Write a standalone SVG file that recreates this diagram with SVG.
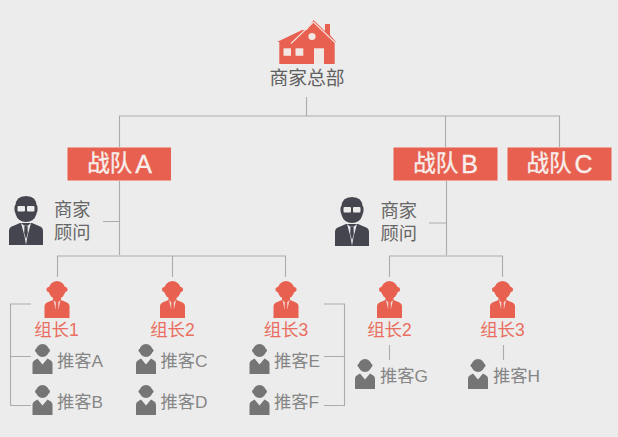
<svg xmlns="http://www.w3.org/2000/svg" width="618" height="437" viewBox="0 0 618 437">
<style>
text{font-family:"Liberation Sans","Noto Sans CJK SC",sans-serif}
.c{fill:none;stroke:#ababab;stroke-width:1.1}
.team{fill:#e8604f}
.tt{fill:#f7efec;stroke:#f7efec;stroke-width:.35;font-size:22.500px;text-anchor:middle}
.hq{fill:#606060;font-size:18.800px;text-anchor:middle}
.adv{fill:#666;font-size:18.300px}
.lead{fill:#ea6e60;font-size:17.500px;text-anchor:middle}
.rec{fill:#868686;font-size:17.300px}
</style>
<defs>
<g id="person">
<ellipse cx="0" cy="-15" rx="8.500" ry="9"/>
<rect x="-10.500" y="-18" width="21" height="5" rx="2.500"/>
<path d="M-4 -9H4V-3H-4Z"/>
<path d="M-12.500 13V1Q-12.500 -1.500 -10 -2.500L-4 -5H4L10 -2.500Q12.500 -1.500 12.500 1V13Z"/>
<path d="M-3.500 -5L-1.500 4H1.500L3.500 -5L1.500 -3L-1.500 -3Z" fill="#f2d9d4"/>
<path d="M-1.200 -3H1.200L1.400 3L0 7L-1.400 3Z"/>
</g>
<g id="rec">
<circle cx="0" cy="-8.500" r="6.500"/>
<rect x="-7.500" y="-10.500" width="15" height="4" rx="2"/>
<path d="M-10 15V4.500Q-10 2 -7.500 1L-5 -0.500L0 5.500L5 -0.500L7.500 1Q10 2 10 4.500V15Z"/>
</g>
<g id="advisor">
<path d="M-17 21V7Q-17 3 -13 2L-6 -1H6L13 2Q17 3 17 7V21Z"/>
<path d="M-5 -1L-1.500 12L0 21L1.500 12L5 -1L2 1.500H-2Z" fill="#e8e8ea"/>
<path d="M-1.500 1.500H1.500L1.800 9L0 15L-1.800 9Z"/>
<path d="M-10.500 -18Q-10.500 -28 0 -28Q10.500 -28 10.500 -18V-10Q8 -2 0 -2Q-8 -2 -10.500 -10Z"/>
<rect x="-11.500" y="-20" width="23" height="9.500" rx="3.500"/>
<rect x="-8.500" y="-18" width="7.500" height="5.500" rx="1" fill="#ececec"/>
<rect x="1" y="-18" width="7.500" height="5.500" rx="1" fill="#ececec"/>
</g>
</defs>
<rect width="618" height="437" fill="#ececec"/>
<g id="connectors" class="c">
<path d="M306.500 97V116M119.500 147V116H559.500V147M445.500 116V147"/>
<path d="M119.500 181V255M103 221.500H119.500M57.500 277V256H285.500V277M172.500 256V277"/>
<path d="M446.500 181V255M429 223H446.500M389.500 277V256H502.500V277"/>
<path d="M31 304H10.500V405.500H31M10.500 356.500H31"/>
<path d="M324 304H344.500V405.500H324M324 356.500H344.500"/>
<path d="M389.500 345V360M503.500 345V360"/>
</g>
<g id="hq">
<path fill="#e8604f" d="M277 42L302 30H307L313.500 20L325 31V24H330V35L336 42L334.700 43V64H279.300V42Z"/>
<path fill="none" stroke="#f6e2dd" stroke-width="1.100" d="M291 43.500L313.500 22L336 43.500"/>
<circle cx="312" cy="36.500" r="3.600" fill="#f4e6e2"/>
<rect x="283.500" y="48.300" width="7.500" height="7.500" fill="#f4e6e2"/>
<rect x="295.500" y="48.300" width="7.800" height="7.500" fill="#f4e6e2"/>
<rect x="314" y="48.300" width="10" height="15.700" fill="#f0e8e5"/>
<text class="hq" x="307" y="85">商家总部</text>
</g>
<g id="team-a"><rect class="team" x="67.500" y="147.500" width="103.500" height="33"/><text class="tt" x="119.500" y="171">战队<tspan dx="3" dy="2" font-size="25">A</tspan></text></g>
<g id="team-b"><rect class="team" x="393.500" y="147.500" width="104" height="33"/><text class="tt" x="445.500" y="171">战队<tspan dx="3" dy="2" font-size="25">B</tspan></text></g>
<g id="team-c"><rect class="team" x="507.500" y="147.500" width="104" height="33"/><text class="tt" x="559.500" y="171">战队<tspan dx="3" dy="2" font-size="25">C</tspan></text></g>
<g id="advisor-a"><use href="#advisor" x="26" y="224" fill="#45454f"/><text class="adv" x="54" y="216">商家</text><text class="adv" x="54" y="239">顾问</text></g>
<g id="advisor-b"><use href="#advisor" x="352" y="225" fill="#45454f"/><text class="adv" x="380.500" y="217">商家</text><text class="adv" x="380.500" y="240">顾问</text></g>
<g id="lead-a1" fill="#e8604f"><use href="#person" x="57" y="305"/><text class="lead" x="56.500" y="336">组长1</text></g>
<g id="lead-a2" fill="#e8604f"><use href="#person" x="172.500" y="305"/><text class="lead" x="172.500" y="336">组长2</text></g>
<g id="lead-a3" fill="#e8604f"><use href="#person" x="286" y="305"/><text class="lead" x="286" y="336">组长3</text></g>
<g id="lead-b2" fill="#e8604f"><use href="#person" x="389.500" y="305"/><text class="lead" x="389.500" y="336">组长2</text></g>
<g id="lead-b3" fill="#e8604f"><use href="#person" x="502.500" y="305"/><text class="lead" x="502.500" y="336">组长3</text></g>
<g id="rec-a" fill="#757575"><use href="#rec" x="42.500" y="359"/><text class="rec" x="57" y="367">推客A</text></g>
<g id="rec-b" fill="#757575"><use href="#rec" x="42.500" y="400"/><text class="rec" x="57" y="408">推客B</text></g>
<g id="rec-c" fill="#757575"><use href="#rec" x="146" y="359"/><text class="rec" x="160.500" y="367">推客C</text></g>
<g id="rec-d" fill="#757575"><use href="#rec" x="146" y="400"/><text class="rec" x="160.500" y="408">推客D</text></g>
<g id="rec-e" fill="#757575"><use href="#rec" x="259.500" y="359"/><text class="rec" x="274" y="367">推客E</text></g>
<g id="rec-f" fill="#757575"><use href="#rec" x="259.500" y="400"/><text class="rec" x="274" y="408">推客F</text></g>
<g id="rec-g" fill="#757575"><use href="#rec" x="365" y="374"/><text class="rec" x="380" y="382">推客G</text></g>
<g id="rec-h" fill="#757575"><use href="#rec" x="478" y="374"/><text class="rec" x="493" y="382">推客H</text></g>
</svg>
